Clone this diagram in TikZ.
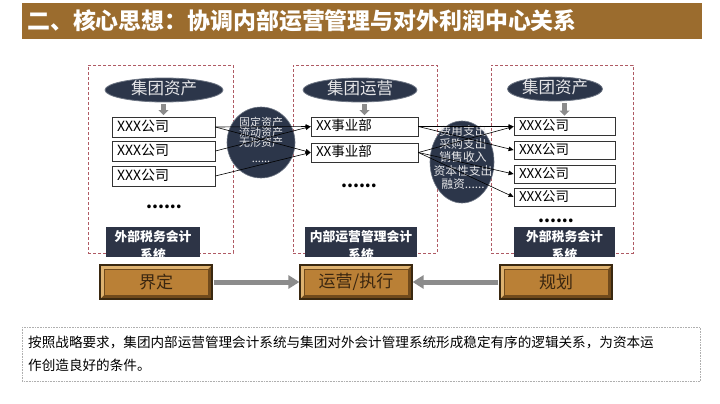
\documentclass[tikz,border=0pt]{standalone}
\usepackage{fontspec}
\setmainfont{Noto Sans CJK SC}
\usetikzlibrary{arrows.meta,shapes.geometric}
\definecolor{titlebar}{RGB}{155,108,46}
\definecolor{navy}{RGB}{44,54,74}
\definecolor{navyrim}{RGB}{110,118,132}
\definecolor{dashred}{RGB}{175,90,100}
\definecolor{btnface}{RGB}{186,128,54}
\definecolor{btnlight}{RGB}{222,178,112}
\definecolor{btndark}{RGB}{112,74,28}
\definecolor{btnedge}{RGB}{58,40,16}
\definecolor{btntext}{RGB}{58,38,16}
\definecolor{arrowgrey}{RGB}{140,140,140}
\definecolor{lighttext}{RGB}{230,230,232}
\definecolor{labelfill}{RGB}{45,52,70}
\definecolor{noteedge}{RGB}{175,175,175}
\tikzset{
  groupbox/.style={draw=dashred, line width=0.6pt, dash pattern=on 3pt off 2pt, minimum height=188pt, inner sep=0pt},
  bigell/.style={ellipse, fill=navy, draw=navyrim, line width=0.8pt, minimum height=24pt, inner sep=0pt,
    text=lighttext, font=\fontsize{16.5}{18}\selectfont, text height=12pt, text depth=3pt},
  smallell/.style={ellipse, fill=navy, draw=navyrim, line width=0.6pt, inner sep=0pt},
  elltext/.style={text=lighttext, align=center, inner sep=0pt},
  itembox/.style={draw=black!80, line width=0.8pt, fill=white, minimum height=19pt, inner xsep=5pt, inner ysep=0pt,
    align=left, font=\fontsize{14}{16}\selectfont, text height=10.5pt, text depth=2.5pt},
  dotsnode/.style={font=\bfseries\fontsize{17}{18}\selectfont, inner sep=0pt},
  labelbox/.style={fill=labelfill, minimum height=30pt, inner sep=0pt},
  labeltext/.style={text=white, align=center, font=\bfseries\fontsize{12.8}{18}\selectfont, inner sep=0pt},
  downarr/.style={draw=arrowgrey, line width=5pt, -{Triangle[length=5pt,width=10pt]}, shorten <=2pt, shorten >=1.5pt},
  link/.style={draw=black, line width=0.6pt, -{Triangle[length=5pt,width=4.5pt]}},
  btn/.style={minimum width=112pt, minimum height=34pt, inner sep=0pt, draw=btnedge, line width=1.2pt, fill=btndark,
    text=btntext, font=\fontsize{17}{18}\selectfont,
    path picture={
      \path (path picture bounding box.south west) coordinate (pSW)
            (path picture bounding box.north east) coordinate (pNE);
      \path (pSW |- pNE) coordinate (pNW);
      \fill[btnlight] (pSW) -- (pNW) -- (pNE) -- ([shift={(-4pt,-4pt)}]pNE) -- ([shift={(4pt,-4pt)}]pNW) -- ([shift={(4pt,4pt)}]pSW) -- cycle;
      \fill[btnface, draw=btndark, line width=0.5pt] ([shift={(4pt,4pt)}]pSW) rectangle ([shift={(-4pt,-4pt)}]pNE);
    }},
  bigarrow/.style={draw=arrowgrey, line width=5pt, -{Triangle[length=11pt,width=13pt]}, shorten <=1pt},
}
\begin{document}
\begin{tikzpicture}[x=1pt,y=-1pt]
\useasboundingbox (0,0) rectangle (720,404);
\fill[white] (0,0) rectangle (720,404);
% title
\node[fill=titlebar, minimum width=680pt, minimum height=36pt, inner sep=0pt, anchor=north west] (title) at (22,3) {};
\node[anchor=west, text=white, inner sep=0pt, font=\bfseries\fontsize{22.9}{24}\selectfont] (titletext) at (27,21) {二、核心思想：协调内部运营管理与对外利润中心关系};
% group boxes
\node[groupbox, minimum width=145pt] (gL) at (160.5,159) {};
\node[groupbox, minimum width=144pt] (gM) at (365,159) {};
\node[groupbox, minimum width=142pt] (gR) at (562,159) {};
% big ellipses
\node[bigell, minimum width=118pt] (eL) at (164,90) {集团资产};
\node[bigell, minimum width=114pt] (eM) at (360,90) {集团运营};
\node[bigell, minimum width=95pt] (eR) at (555,89) {集团资产};
% item boxes
\node[itembox, text width=93pt, minimum height=20pt] (L1) at (163.5,127) {XXX公司};
\node[itembox, text width=93pt, minimum height=20pt] (L2) at (163.5,151) {XXX公司};
\node[itembox, text width=93pt, minimum height=20pt] (L3) at (163.5,176) {XXX公司};
\node[itembox, text width=97pt, font=\fontsize{13.5}{15}\selectfont] (M1) at (364.5,126.5) {XX事业部};
\node[itembox, text width=97pt, font=\fontsize{13.5}{15}\selectfont] (M2) at (364.5,152.5) {XX事业部};
\node[itembox, text width=91pt, minimum height=18pt, font=\fontsize{13.5}{15}\selectfont] (R1) at (564.5,126.5) {XXX公司};
\node[itembox, text width=91pt, minimum height=18pt, font=\fontsize{13.5}{15}\selectfont] (R2) at (564.5,150) {XXX公司};
\node[itembox, text width=91pt, minimum height=18pt, font=\fontsize{13.5}{15}\selectfont] (R3) at (564.5,174) {XXX公司};
\node[itembox, text width=91pt, minimum height=18pt, font=\fontsize{13.5}{15}\selectfont] (R4) at (564.5,197) {XXX公司};
% small grey arrows
\draw[downarr] (L1.north |- eL.south) -- (L1.north);
\draw[downarr] (M1.north |- eM.south) -- (M1.north);
\draw[downarr] (R1.north |- eR.south) -- (R1.north);
% dots
\node[dotsnode] (dL) at (164,207) {......};
\node[dotsnode] (dM) at (359,186) {......};
\node[dotsnode] (dR) at (556,221) {......};
% small ellipses
\node[smallell, minimum width=68pt, minimum height=71pt] (sL) at (261,142.5) {};
\node[elltext, font=\fontsize{11}{10.3}\selectfont] (sLt) at (261,139.5) {固定资产\\流动资产\\无形资产\\[5pt]......};
\node[smallell, minimum width=64pt, minimum height=82pt] (sR) at (462,162) {};
\node[elltext, font=\fontsize{11.8}{13.2}\selectfont] (sRt) at (463,157.5) {费用支出\\采购支出\\销售收入\\资本性支出\\融资......};
% links
\draw[link] (L1.east) -- (M1.west);
\draw[link] (L1.east) -- (M2.west);
\draw[link] (L2.east) -- (M1.west);
\draw[link] (L3.east) -- (M2.west);
\draw[link] (M1.east) -- (R1.west);
\draw[link] (M1.east) -- (R2.west);
\draw[link] (M2.east) -- (R1.west);
\draw[link] (M2.east) -- (R3.west);
\draw[link] (M2.east) -- (R4.west);
% label boxes
\node[labelbox, minimum width=94pt] (lbL) at (153,242) {};
\node[labelbox, minimum width=112pt] (lbM) at (361,242) {};
\node[labelbox, minimum width=101pt] (lbR) at (564.5,242) {};
\begin{scope}
\clip (lbL.north west) rectangle (lbL.south east);
\node[labeltext] (lbLt) at ([yshift=-4pt]lbL.center) {外部税务会计\\系统};
\end{scope}
\begin{scope}
\clip (lbM.north west) rectangle (lbM.south east);
\node[labeltext] (lbMt) at ([yshift=-4pt]lbM.center) {内部运营管理会计\\系统};
\end{scope}
\begin{scope}
\clip (lbR.north west) rectangle (lbR.south east);
\node[labeltext] (lbRt) at ([yshift=-4pt]lbR.center) {外部税务会计\\系统};
\end{scope}
% buttons
\node[btn] (bL) at (156,282) {界定};
\node[btn] (bM) at (356,282) {运营/执行};
\node[btn] (bR) at (556,282) {规划};
\draw[bigarrow] (bL) -- (bM);
\draw[bigarrow] (bR) -- (bM);
% note
\node[draw=noteedge, densely dotted, line width=0.6pt, fill=white, minimum width=678pt, minimum height=54pt, inner sep=0pt, anchor=north west] (note) at (22,327) {};
\node[anchor=west, align=left, inner sep=0pt, font=\fontsize{13.6}{23}\selectfont] (notet) at ([xshift=6pt]note.west) {按照战略要求，集团内部运营管理会计系统与集团对外会计管理系统形成稳定有序的逻辑关系，为资本运\\作创造良好的条件。};
\end{tikzpicture}
\end{document}
